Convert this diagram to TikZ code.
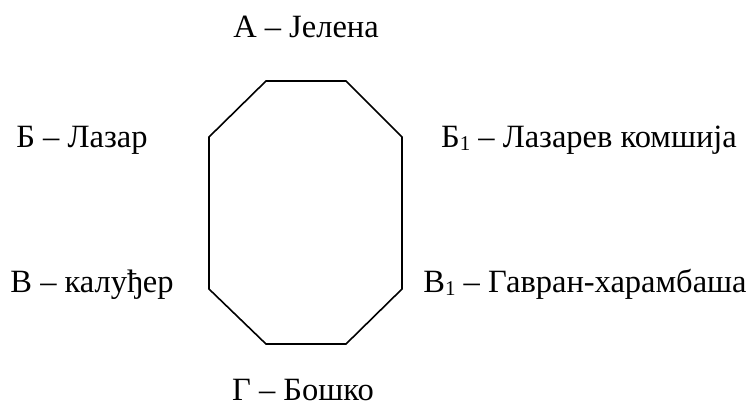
\documentclass[tikz,border=0pt]{standalone}
\usepackage{fontspec}
\setmainfont{Liberation Serif}
\newcommand{\subone}{{\fontsize{21}{21}\selectfont\raisebox{-3pt}{1}}}
\begin{document}
\begin{tikzpicture}[x=1pt,y=-1pt,
  lbl/.style={anchor=base,inner sep=0pt,font=\fontsize{32.5}{36}\selectfont},
  octo/.style={draw=black,line width=1.6pt,line join=miter}]
\useasboundingbox (0,0) rectangle (748,407);
\coordinate (p1) at (266,81);
\coordinate (p2) at (346,81);
\coordinate (p3) at (402,137);
\coordinate (p4) at (402,289);
\coordinate (p5) at (346,344);
\coordinate (p6) at (266,344);
\coordinate (p7) at (209,289);
\coordinate (p8) at (209,137);
\draw[octo] (p1) -- (p2) -- (p3) -- (p4) -- (p5) -- (p6) -- (p7) -- (p8) -- cycle;
\node[lbl] (a) at (306,37) {А – Јелена};
\node[lbl] (b) at (82,147) {Б – Лазар};
\node[lbl] (v) at (92,292) {В – калуђер};
\node[lbl] (b1) at (589,147) {Б\subone{} – Лазарев комшија};
\node[lbl] (v1) at (585,292) {В\subone{} – Гавран-харамбаша};
\node[lbl] (g) at (303,400) {Г – Бошко};
\end{tikzpicture}
\end{document}
